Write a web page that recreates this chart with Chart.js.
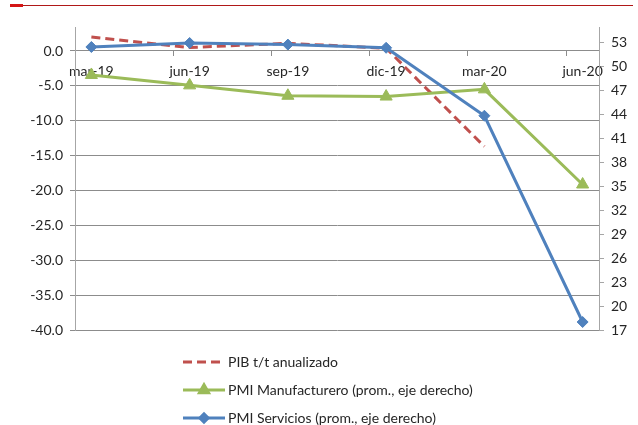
<!DOCTYPE html>
<html>
<head>
<meta charset="utf-8">
<script src="https://cdn.jsdelivr.net/npm/chart.js@4.4.1/dist/chart.umd.min.js"></script>
<style>
  html, body { margin: 0; padding: 0; background: #ffffff; }
  #wrap { position: relative; width: 638px; height: 425px; overflow: hidden; }
  #c { position: absolute; left: 0; top: 0; }
  #rule { position: absolute; left: 10px; top: 5px; width: 623px; height: 1px; background: #b01818; }
  #ruleMark { position: absolute; left: 10px; top: 4px; width: 13px; height: 3px; background: #d41616; }
</style>
</head>
<body>
<div id="wrap">
  <canvas id="c" width="638" height="425"></canvas>
  <div id="rule"></div>
  <div id="ruleMark"></div>
</div>
<script>
// Quarterly categories
const categories = ['mar-19', 'jun-19', 'sep-19', 'dic-19', 'mar-20', 'jun-20'];

// GDP q/q annualized (left axis), no figure yet for jun-20
const pib = [2.0, 0.5, 1.1, 0.4, -13.7, null];
// PMI quarterly averages (right axis)
const pmiManuf = [48.9, 47.6, 46.3, 46.2, 47.1, 35.2];
const pmiServ = [52.4, 52.9, 52.7, 52.3, 43.8, 18.0];

// Axis tick values
const leftTicks = [0, -5, -10, -15, -20, -25, -30, -35, -40];
const rightTicks = [17, 20, 23, 26, 29, 32, 35, 38, 41, 44, 47, 50, 53];

const FONT = { family: 'Lato, "Liberation Sans", sans-serif', size: 14 };
const TEXT = '#262626';
const GRID = '#8c8c8c';
const AXIS = '#a6a6a6';

const toPoints = arr => arr.map((v, i) => ({ x: i, y: v }));

// Vertical legend under the plot: sample line + marker + label per series
const stackedLegend = {
  id: 'stackedLegend',
  afterDraw(chart, args, opts) {
    const ctx = chart.ctx;
    chart.data.datasets.forEach((ds, i) => {
      const y = opts.top + i * opts.rowGap;
      const x0 = opts.left;
      const x1 = opts.left + opts.sample;
      ctx.save();
      ctx.strokeStyle = ds.borderColor;
      ctx.lineWidth = ds.borderWidth;
      ctx.setLineDash(ds.borderDash || []);
      ctx.beginPath();
      ctx.moveTo(x0, y);
      ctx.lineTo(x1, y);
      ctx.stroke();
      ctx.setLineDash([]);
      if (ds.pointRadius > 0) {
        ctx.fillStyle = ds.backgroundColor;
        ctx.strokeStyle = ds.borderColor;
        Chart.helpers.drawPoint(ctx, {
          pointStyle: ds.pointStyle,
          rotation: 0,
          radius: ds.pointRadius * 0.75,
          borderWidth: 1
        }, (x0 + x1) / 2, y);
      }
      ctx.fillStyle = TEXT;
      ctx.font = `${FONT.size}px ${FONT.family}`;
      ctx.textBaseline = 'middle';
      ctx.textAlign = 'left';
      ctx.fillText(ds.label, x1 + opts.gap, y);
      ctx.restore();
    });
  }
};

new Chart(document.getElementById('c'), {
  type: 'line',
  data: {
    datasets: [
      {
        label: 'PIB t/t anualizado',
        data: toPoints(pib),
        yAxisID: 'y',
        borderColor: '#C0504D',
        backgroundColor: '#C0504D',
        borderWidth: 3,
        borderDash: [9, 5],
        pointRadius: 0,
        spanGaps: false,
        order: 3
      },
      {
        label: 'PMI Manufacturero (prom., eje derecho)',
        data: toPoints(pmiManuf),
        yAxisID: 'y2',
        borderColor: '#9BBB59',
        backgroundColor: '#9BBB59',
        borderWidth: 3,
        pointStyle: 'triangle',
        pointRadius: 7,
        pointBorderWidth: 1,
        order: 2
      },
      {
        label: 'PMI Servicios (prom., eje derecho)',
        data: toPoints(pmiServ),
        yAxisID: 'y2',
        borderColor: '#4F81BD',
        backgroundColor: '#4F81BD',
        borderWidth: 3,
        pointStyle: 'rectRot',
        pointRadius: 5.5,
        pointBorderWidth: 1,
        order: 1
      }
    ]
  },
  options: {
    responsive: false,
    animation: false,
    devicePixelRatio: 1,
    layout: { padding: { top: 27, bottom: 95, left: 0, right: 0 } },
    plugins: {
      legend: { display: false },
      tooltip: { enabled: false },
      stackedLegend: { left: 183, top: 362, rowGap: 28, sample: 42, gap: 3 }
    },
    scales: {
      x: {
        type: 'linear',
        position: { y: 0 },
        min: -1 / 6,
        max: categories.length - 1 + 1 / 6,
        afterBuildTicks: scale => {
          const t = [];
          categories.forEach((c, i) => {
            t.push({ value: i });
            if (i < categories.length - 1) t.push({ value: i + 5 / 6 });
          });
          scale.ticks = t;
        },
        ticks: {
          autoSkip: false,
          maxRotation: 0,
          padding: 7,
          font: FONT,
          color: TEXT,
          callback: v => (Number.isInteger(v) ? categories[v] : '')
        },
        grid: {
          drawOnChartArea: false,
          drawTicks: true,
          tickLength: 5,
          tickColor: ctx => (ctx.tick && Number.isInteger(ctx.tick.value) ? 'rgba(0,0,0,0)' : GRID)
        },
        border: { color: GRID }
      },
      y: {
        position: 'left',
        min: -40,
        max: 3.44,
        afterBuildTicks: scale => { scale.ticks = leftTicks.map(v => ({ value: v })); },
        afterFit: scale => { scale.width = 75; },
        ticks: {
          padding: 7,
          font: FONT,
          color: TEXT,
          callback: v => v.toFixed(1)
        },
        grid: { color: GRID, tickColor: GRID, tickLength: 5 },
        border: { color: AXIS }
      },
      y2: {
        position: 'right',
        min: 17,
        max: 54.9,
        afterBuildTicks: scale => { scale.ticks = rightTicks.map(v => ({ value: v })); },
        afterFit: scale => { scale.width = 39; },
        ticks: {
          padding: 7,
          font: FONT,
          color: TEXT,
          callback: v => String(v)
        },
        grid: { drawOnChartArea: false, tickColor: AXIS, tickLength: 5 },
        border: { color: AXIS }
      }
    }
  },
  plugins: [stackedLegend]
});
</script>
</body>
</html>
